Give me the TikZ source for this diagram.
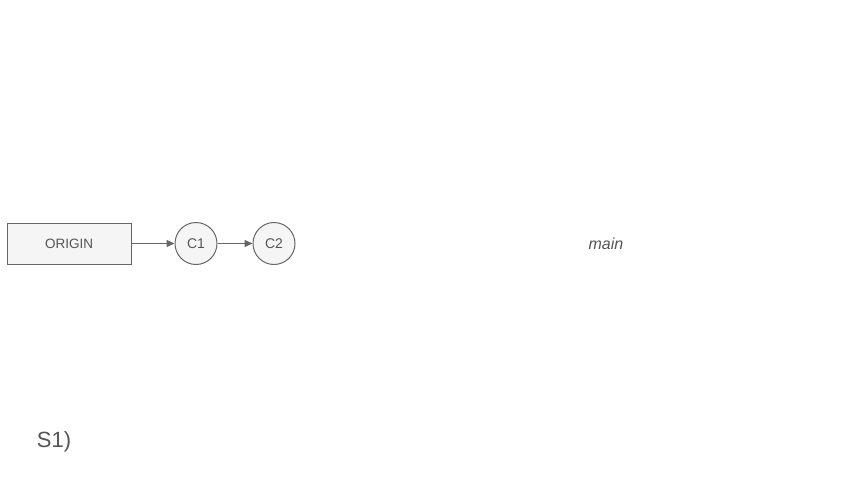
\documentclass[tikz,border=0pt]{standalone}
\usepackage{fontspec}
\setmainfont{Liberation Sans}
\usetikzlibrary{arrows.meta}
\definecolor{boxfill}{HTML}{F5F5F5}
\definecolor{boxline}{HTML}{666666}
\definecolor{txt}{HTML}{555555}
\tikzset{
  rectbox/.style={draw=boxline, fill=boxfill, line width=1pt, minimum width=124pt, minimum height=41pt, inner sep=0pt, text=txt, font=\fontsize{13.5}{15}\selectfont},
  commit/.style={draw=boxline, fill=boxfill, line width=1pt, circle, minimum size=42pt, inner sep=0pt, text=txt, font=\fontsize{14}{16}\selectfont},
  link/.style={draw=boxline, line width=1pt, -{Triangle[length=8pt,width=7pt]}},
  plain/.style={text=txt, inner sep=0pt}
}
\begin{document}
\begin{tikzpicture}[x=1pt,y=-1pt]
\useasboundingbox (0,0) rectangle (853,480);
\node[rectbox] (origin) at (69,243.5) {ORIGIN};
\node[commit] (c1) at (196,243.5) {C1};
\node[commit] (c2) at (274,243.5) {C2};
\draw[link] (origin) -- (c1);
\draw[link] (c1) -- (c2);
\node[plain, font=\itshape\fontsize{16}{18}\selectfont] (main) at (606,244) {main};
\node[plain, font=\fontsize{22}{24}\selectfont] (s1) at (54,442) {S1)};
\end{tikzpicture}
\end{document}
